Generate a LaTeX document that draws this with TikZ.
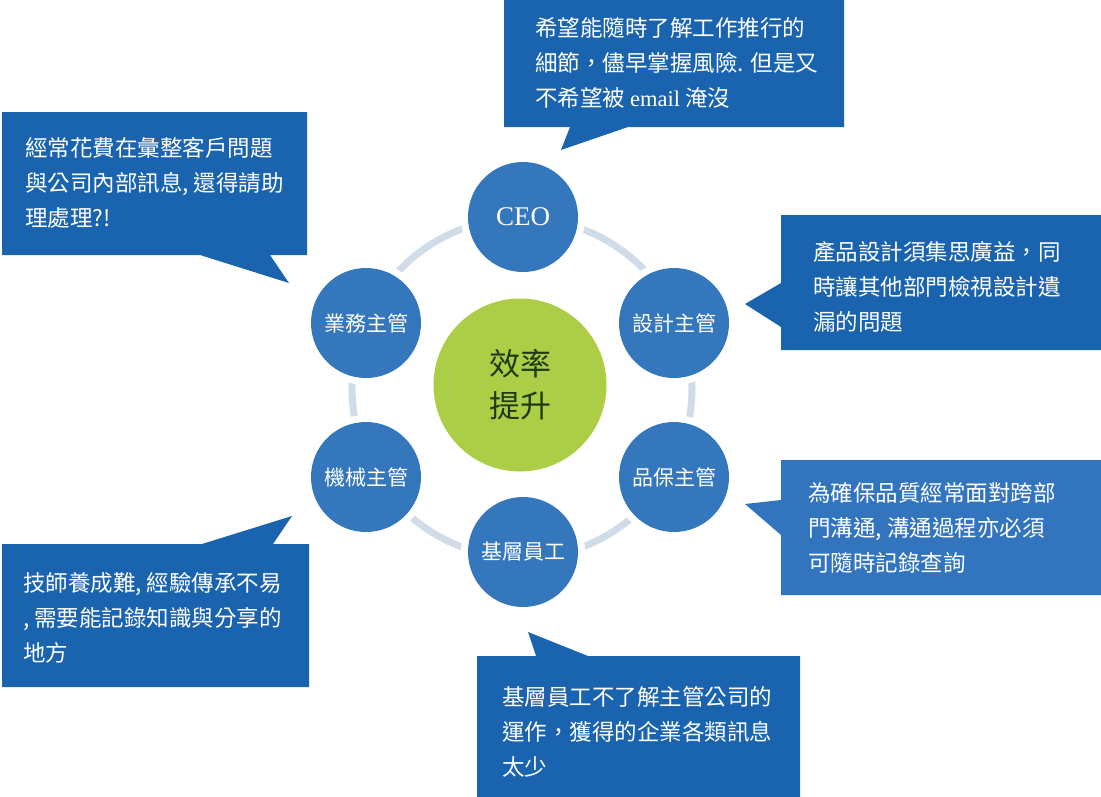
\documentclass[tikz,border=0pt]{standalone}
\usepackage{fontspec}
\newfontfamily\cjk{Noto Sans CJK TC}
\newfontfamily\lat{Liberation Serif}
\definecolor{boxdark}{RGB}{26,100,175}
\definecolor{boxlight}{RGB}{50,117,190}
\definecolor{nodeblue}{RGB}{52,119,188}
\definecolor{ringgray}{RGB}{208,221,232}
\definecolor{centergreen}{RGB}{172,206,70}
\definecolor{centertext}{RGB}{30,58,18}
\tikzset{
  ring/.style={draw=ringgray, line width=7pt},
  role/.style={circle, fill=nodeblue, preaction={draw=white, line width=14pt}, minimum size=110pt, inner sep=0pt, text=white, font=\fontsize{21}{26}\selectfont\cjk},
  hub/.style={circle, fill=centergreen, minimum size=173pt, inner sep=0pt, text=centertext, align=center, font=\fontsize{31}{42}\selectfont\cjk},
  calloutdark/.style={fill=boxdark},
  calloutlight/.style={fill=boxlight},
  note/.style={anchor=west, inner sep=0pt, text=white, align=left, font=\fontsize{22.5}{35}\selectfont\cjk},
}
\begin{document}
\begin{tikzpicture}[x=1pt,y=-1pt]
\useasboundingbox (0,0) rectangle (1101,796);
% callouts
\fill[calloutdark] (504,-1) -- (844,-1) -- (844,127) -- (628,127) -- (561,150) -- (570,127) -- (504,127) -- cycle;
\fill[calloutdark] (2,112) -- (307,112) -- (307,255) -- (270,255) -- (289,283) -- (200,255) -- (2,255) -- cycle;
\fill[calloutdark] (781,215) -- (1101,215) -- (1101,350) -- (781,350) -- (781,327) -- (745,304) -- (781,283) -- cycle;
\fill[calloutlight] (781,460) -- (1101,460) -- (1101,595) -- (781,595) -- (781,535) -- (745,504) -- (781,500) -- cycle;
\fill[calloutdark] (2,544) -- (202,544) -- (292,516) -- (273,544) -- (309,544) -- (309,687) -- (2,687) -- cycle;
\fill[calloutdark] (477,656) -- (536,656) -- (528,632) -- (588,656) -- (800,656) -- (800,797) -- (477,797) -- cycle;
% texts
\node[note] (t1) at (535,63) {希望能隨時了解工作推行的\\細節，儘早掌握風險. 但是又\\不希望被 {\lat email} 淹沒};
\node[note] (t2) at (25,183) {經常花費在彙整客戶問題\\與公司內部訊息, 還得請助\\理處理?!};
\node[note] (t3) at (813,287) {產品設計須集思廣益，同\\時讓其他部門檢視設計遺\\漏的問題};
\node[note] (t4) at (808,528) {為確保品質經常面對跨部\\門溝通, 溝通過程亦必須\\可隨時記錄查詢};
\node[note] (t5) at (23,618) {技師養成難, 經驗傳承不易\\, 需要能記錄知識與分享的\\地方};
\node[note] (t6) at (502,732) {基層員工不了解主管公司的\\運作，獲得的企業各類訊息\\太少};
% hub and ring
\coordinate (rc) at (522,388);
\draw[ring] (rc) circle[radius=170];
\node[hub] (c) at (520,385) {效率\\提升};
\node[role, font=\fontsize{27}{30}\selectfont\lat] (ceo) at (523,217) {CEO};
\node[role] (des) at (674,323) {設計主管};
\node[role] (qa) at (674,477) {品保主管};
\node[role] (staff) at (523,552) {基層員工};
\node[role] (mech) at (366,477) {機械主管};
\node[role] (sales) at (366,323) {業務主管};
\end{tikzpicture}
\end{document}
